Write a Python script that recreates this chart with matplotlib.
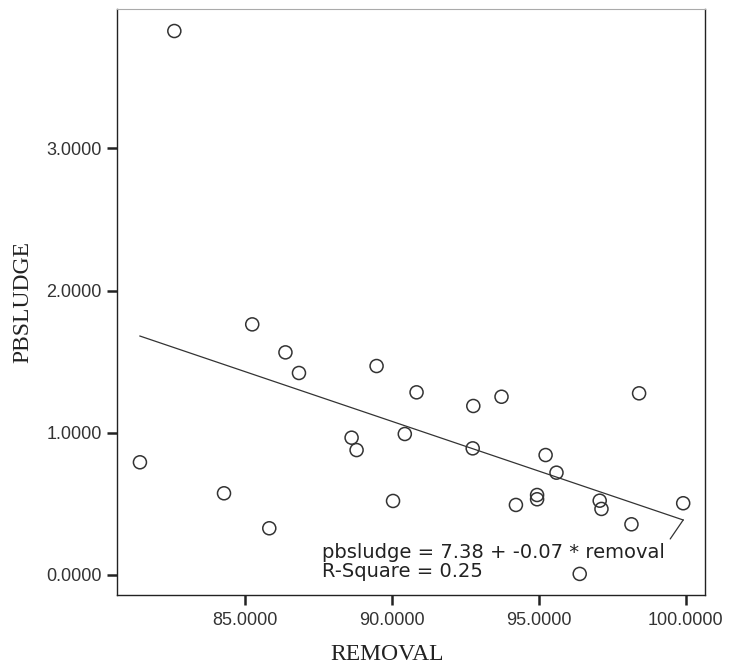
import matplotlib.pyplot as plt
import numpy as np

# removal (%) vs Pb in sludge
removal = [82.60, 81.43, 84.29, 85.25, 85.83, 86.38, 86.84, 88.63, 88.80,
           89.48, 90.04, 90.44, 90.84, 92.75, 92.77, 93.73, 94.22, 94.94,
           94.94, 95.23, 95.60, 96.39, 97.07, 97.13, 98.15, 98.41, 99.91]
pbsludge = [3.825, 0.792, 0.574, 1.762, 0.328, 1.565, 1.420, 0.965, 0.878,
            1.469, 0.520, 0.991, 1.284, 0.890, 1.188, 1.253, 0.492, 0.562,
            0.532, 0.843, 0.719, 0.007, 0.522, 0.464, 0.356, 1.277, 0.504]

# fitted line as reported
intercept = 7.38
slope = -0.07
r_square = 0.25

xticks = [85, 90, 95, 100]
yticks = [0, 1, 2, 3]

fig = plt.figure(figsize=(7.29, 6.70), dpi=100)
ax = fig.add_axes([0.1605, 0.112, 0.8065, 0.8746])

ax.scatter(removal, pbsludge, s=88, facecolors='none', edgecolors='#333333',
           linewidths=1.1, zorder=3)

xfit = np.array([min(removal), max(removal)])
yfit = intercept + slope * xfit
ax.plot(xfit, yfit, color='#333333', lw=0.9)

# short leader from the equation to the end of the line
ax.annotate('', xy=(xfit[-1], yfit[-1]), xytext=(-13, -19),
            textcoords='offset pixels',
            arrowprops=dict(arrowstyle='-', color='#333333', lw=0.9,
                            shrinkA=0, shrinkB=0))

ax.text(0.349, 0.063, 'pbsludge = %.2f + %.2f * removal' % (intercept, slope),
        transform=ax.transAxes, fontsize=14, family='DejaVu Sans',
        color='#222222', va='baseline')
ax.text(0.349, 0.03, 'R-Square = %.2f' % r_square,
        transform=ax.transAxes, fontsize=14, family='DejaVu Sans',
        color='#222222', va='baseline')

ax.set_xlim(80.65, 100.65)
ax.set_ylim(-0.141, 3.98)
ax.set_xticks(xticks)
ax.set_yticks(yticks)
ax.set_xticklabels(['%.4f' % v for v in xticks])
ax.set_yticklabels(['%.4f' % v for v in yticks])
for lab in ax.get_xticklabels() + ax.get_yticklabels():
    lab.set_family('Liberation Sans')
    lab.set_fontsize(13)
    lab.set_color('#333333')

ax.tick_params(axis='both', direction='out', length=7, width=1.8,
               color='#222222')
ax.tick_params(axis='x', pad=5)
ax.tick_params(axis='y', pad=4)

for side in ['left', 'bottom', 'right']:
    ax.spines[side].set_linewidth(1.0)
    ax.spines[side].set_color('#222222')
ax.spines['top'].set_linewidth(0.8)
ax.spines['top'].set_color('#aaaaaa')

ax.set_xlabel('REMOVAL', family='Liberation Serif', fontsize=17,
              color='#222222')
ax.xaxis.set_label_coords(0.459, -0.083)
ax.set_ylabel('PBSLUDGE', family='Liberation Serif', fontsize=17,
              color='#222222')
ax.yaxis.set_label_coords(-0.143, 0.5)

plt.savefig('out.png', dpi=100)
